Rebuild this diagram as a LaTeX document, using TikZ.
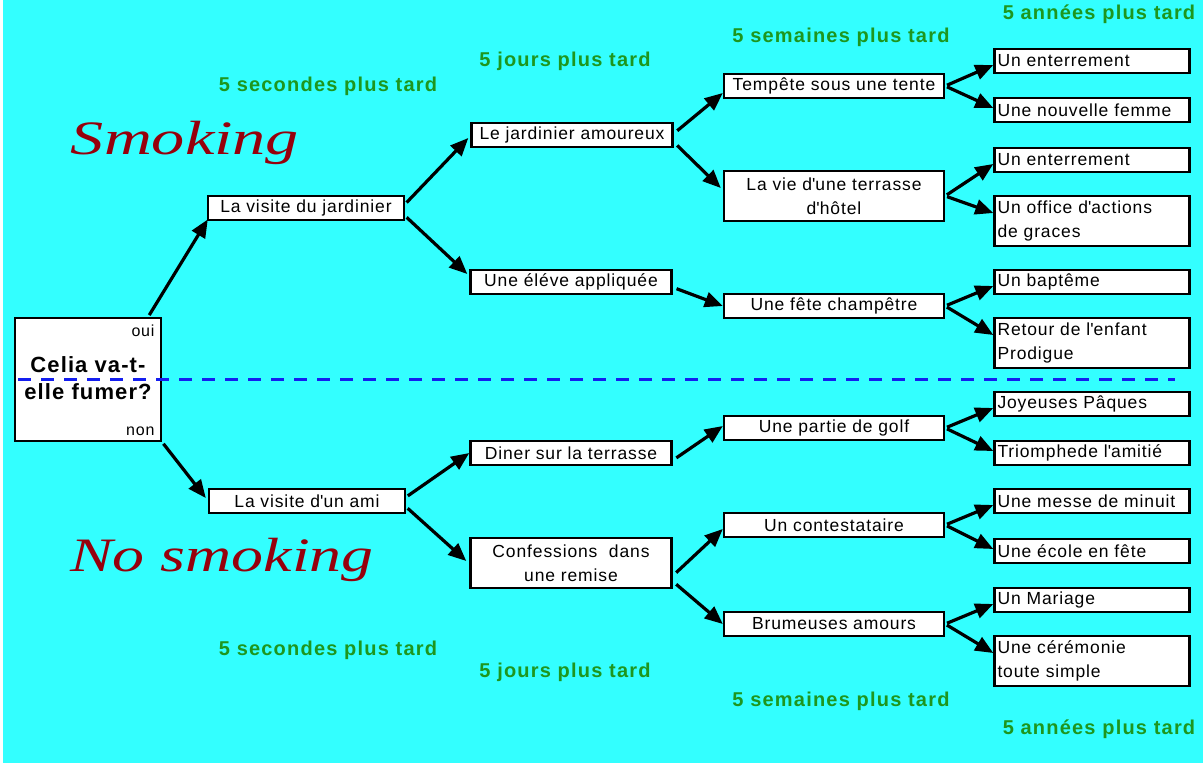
\documentclass[tikz,border=0pt]{standalone}
\usepackage{fontspec}
\usepackage{tikz}
\setmainfont{Liberation Sans}
\newfontfamily\boxfont[LetterSpace=5]{Liberation Sans}
\newfontfamily\tardfont[LetterSpace=6]{Liberation Sans}
\newfontfamily\smokefont{Liberation Serif}
\usetikzlibrary{arrows.meta,calc}
\definecolor{bgcyan}{RGB}{51,255,255}
\definecolor{tardgreen}{RGB}{30,150,30}
\definecolor{smokered}{RGB}{150,0,12}
\definecolor{dashblue}{RGB}{20,30,240}
\newcommand{\ap}{\textquotesingle}

\begin{document}
\begin{tikzpicture}[x=1pt,y=-1pt,
    box/.style={draw,line width=2.4pt,fill=white,inner sep=0pt,minimum height=24.5pt,
        font=\boxfont\fontsize{17.5}{23.5}\selectfont,align=center},
    lone/.style={box,minimum width=196pt},
    ltwo/.style={box,minimum width=201pt},
    lthree/.style={box,minimum width=220pt},
    lfour/.style={box,minimum width=195pt,text width=189pt,align=left},
    tall/.style={minimum height=49.5pt},
    tard/.style={font=\tardfont\bfseries\fontsize{20}{24}\selectfont,text=tardgreen},
    smoke/.style={font=\smokefont\itshape\fontsize{48}{50}\selectfont,text=smokered},
    arr/.style={-{Triangle[length=18pt,width=15pt]},line width=3.2pt,shorten <=2pt}]
    \useasboundingbox (0,0) rectangle (1203,763);
    \fill[bgcyan] (3,0) rectangle (1203,763);

    % question
    \node[box,minimum width=146pt,minimum height=123pt] (root) at (88,379.5) {};
    \node[anchor=east,font=\boxfont\fontsize{16}{18}\selectfont] (oui) at (158,331) {oui};
    \node[anchor=east,font=\boxfont\fontsize{16}{18}\selectfont] (non) at (158,431) {non};
    \node[font=\boxfont\bfseries\fontsize{22}{27}\selectfont,align=center] (celia) at (88,378) {Celia va-t-\\elle fumer?};
    \coordinate (sepL) at (18,379);
    \coordinate (sepR) at (1175,379);
    \draw[dashblue,line width=3pt,dash pattern=on 13pt off 10pt] (sepL) -- (sepR);

    % titles
    \node[smoke] (smk) at (185,143) {\scalebox{1.38}[1]{Smoking}};
    \node[smoke] (nosmk) at (222,560) {\scalebox{1.33}[1]{No smoking}};

    % 5 ... plus tard
    \node[tard] (secA) at (328,86) {5 secondes plus tard};
    \node[tard] (jouA) at (565,61) {5 jours plus tard};
    \node[tard] (semA) at (841,37) {5 semaines plus tard};
    \node[tard] (annA) at (1099,14) {5 années plus tard};
    \node[tard] (secB) at (328,650) {5 secondes plus tard};
    \node[tard] (jouB) at (565,672) {5 jours plus tard};
    \node[tard] (semB) at (841,701) {5 semaines plus tard};
    \node[tard] (annB) at (1099,729) {5 années plus tard};

    % level 1
    \node[lone] (vj) at (306,208) {La visite du jardinier};
    \node[lone] (va) at (307,501) {La visite d\ap un ami};

    % level 2
    \node[ltwo] (ja) at (572,135) {Le jardinier amoureux};
    \node[ltwo] (ea) at (571,282) {Une éléve appliquée};
    \node[ltwo] (dt) at (571,453) {Diner sur la terrasse};
    \node[ltwo,tall] (cr) at (571,563) {Confessions\ \ dans\\une remise};

    % level 3
    \node[lthree] (tt) at (834,86) {Tempête sous une tente};
    \node[lthree,tall] (vt) at (834,196) {La vie d\ap une terrasse\\d\ap hôtel};
    \node[lthree] (fc) at (834,306) {Une fête champêtre};
    \node[lthree] (pg) at (834,428) {Une partie de golf};
    \node[lthree] (co) at (834,525) {Un contestataire};
    \node[lthree] (ba) at (834,624) {Brumeuses amours};

    % level 4
    \node[lfour] (ea1) at (1092,61) {Un enterrement};
    \node[lfour] (nf) at (1092,110) {Une nouvelle femme};
    \node[lfour] (ea2) at (1092,160) {Un enterrement};
    \node[lfour,tall] (oa) at (1092,221) {Un office d\ap actions\\de graces};
    \node[lfour] (bp) at (1092,282) {Un baptême};
    \node[lfour,tall] (rp) at (1092,343) {Retour de l\ap enfant\\Prodigue};
    \node[lfour] (jp) at (1092,404) {Joyeuses Pâques};
    \node[lfour] (ta) at (1092,453) {Triomphede l\ap amitié};
    \node[lfour] (mm) at (1092,501) {Une messe de minuit};
    \node[lfour] (ef) at (1092,551) {Une école en fête};
    \node[lfour] (um) at (1092,600) {Un Mariage};
    \node[lfour,tall] (cs) at (1092,661) {Une cérémonie\\toute simple};

    % arrows
    \draw[arr] ($(root.north east)+(-14,0)$) -- ($(vj.south west)+(1,-2)$);
    \draw[arr] (root.south east) -- ($(va.west)+(-2,-3)$);
    \draw[arr] ($(vj.east)+(0,-4)$) -- ($(ja.west)+(-2,3)$);
    \draw[arr] ($(vj.east)+(0,8)$) -- ($(ea.west)+(-2,-8)$);
    \draw[arr] ($(va.east)+(0,-4)$) -- (dt.west);
    \draw[arr] ($(va.east)+(0,6)$) -- ($(cr.west)+(-3,-2)$);
    \draw[arr] ($(ja.east)+(2,-3)$) -- ($(tt.west)+(0,7)$);
    \draw[arr] ($(ja.east)+(2,9)$) -- ($(vt.west)+(-2,-8)$);
    \draw[arr] ($(ea.east)+(2,6)$) -- (fc.west);
    \draw[arr] ($(dt.east)+(2,6)$) -- ($(pg.west)+(0,-2)$);
    \draw[arr] ($(cr.east)+(2,11)$) -- ($(co.west)+(0,4)$);
    \draw[arr] ($(cr.east)+(2,20)$) -- (ba.west);
    \draw[arr] (tt.east) -- ($(ea1.west)+(0,4)$);
    \draw[arr] (tt.east) -- ($(nf.west)+(0,-2)$);
    \draw[arr] (vt.east) -- ($(ea2.west)+(0,4)$);
    \draw[arr] (vt.east) -- ($(oa.west)+(0,-8)$);
    \draw[arr] (fc.east) -- ($(bp.west)+(0,4)$);
    \draw[arr] (fc.east) -- ($(rp.west)+(0,-8)$);
    \draw[arr] (pg.east) -- ($(jp.west)+(0,4)$);
    \draw[arr] (pg.east) -- ($(ta.west)+(0,-2)$);
    \draw[arr] (co.east) -- ($(mm.west)+(0,4)$);
    \draw[arr] (co.east) -- ($(ef.west)+(0,-2)$);
    \draw[arr] (ba.east) -- ($(um.west)+(0,4)$);
    \draw[arr] (ba.east) -- ($(cs.west)+(0,-8)$);
\end{tikzpicture}
\end{document}
